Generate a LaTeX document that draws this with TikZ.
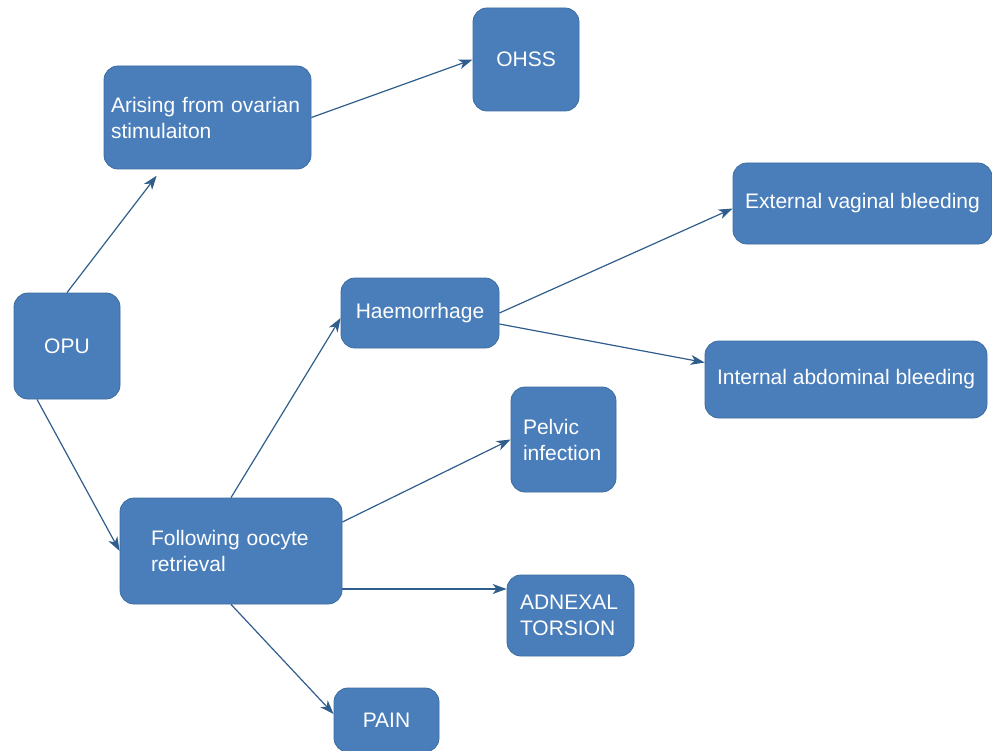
\documentclass[tikz,border=0pt]{standalone}
\usepackage{fontspec}
\setmainfont{Liberation Sans}
\usetikzlibrary{arrows.meta, calc, positioning}
\definecolor{boxfill}{HTML}{4A7EBB}
\definecolor{boxline}{HTML}{3D6C9E}
\definecolor{linkblue}{HTML}{2F5D8C}
\tikzset{
  % riquadro arrotondato
  cbox/.style={draw=boxline, fill=boxfill, rounded corners=14pt, line width=0.8pt,
    text=white, font=\fontsize{21}{26}\selectfont, inner sep=0pt},
  cboxl/.style={cbox, align=left},
  cboxc/.style={cbox, align=center},
  % collegamento
  link/.style={-{Stealth[length=14pt, width=10pt, inset=4pt]}, line width=1.2pt, linkblue},
}

\begin{document}
\begin{tikzpicture}[x=1pt, y=-1pt]
  \useasboundingbox (0,0) rectangle (992,751);
  \node[cboxc, minimum width=106pt, minimum height=106pt] (opu) at (67,346) {OPU};
  \node[cboxl, minimum width=207pt, minimum height=103pt, text width=193pt] (arising) at (207.5,117.5) {Arising from ovarian\\stimulaiton};
  \node[cboxc, minimum width=106pt, minimum height=103pt] (ohss) at (526,59.5) {OHSS};
  \node[cboxl, minimum width=222pt, minimum height=106pt, text width=160pt] (follow) at (231,551) {Following oocyte\\retrieval};
  \node[cboxc, minimum width=158pt, minimum height=70pt] (haem) at (420,313) {Haemorrhage};
  \node[cboxc, minimum width=259pt, minimum height=81pt] (extb) at (862.5,203.5) {External vaginal bleeding};
  \node[cboxc, minimum width=282pt, minimum height=77pt] (intb) at (846,379.5) {Internal abdominal bleeding};
  \node[cboxl, minimum width=105pt, minimum height=105pt, text width=81pt] (pelvic) at (563.5,439.5) {Pelvic\\infection};
  \node[cboxl, minimum width=127pt, minimum height=81pt, text width=101pt] (adnexal) at (570.5,615.5) {ADNEXAL\\TORSION};
  \node[cboxc, minimum width=105pt, minimum height=64pt] (pain) at (386.5,720) {PAIN};

  \draw[link, shorten >=8pt] (opu.north) -- ([xshift=-46pt]arising.south);
  \draw[link] (arising.east) -- (ohss.west);
  \draw[link] ([xshift=-30pt]opu.south) -- (follow.west);
  \draw[link] (follow.north) -- ([yshift=-5pt]haem.west);
  \draw[link] (haem.east) -- ([yshift=-5pt]extb.west);
  \draw[link] ([yshift=-11pt]haem.east) -- ([yshift=17pt]intb.west);
  \draw[link] ([yshift=29pt]follow.east) -- (pelvic.west);
  \draw[link] ([yshift=-38pt]follow.east) -- ([yshift=-38pt]follow.east -| adnexal.west);
  \draw[link] (follow.south) -- ([yshift=6pt]pain.west);
\end{tikzpicture}
\end{document}
